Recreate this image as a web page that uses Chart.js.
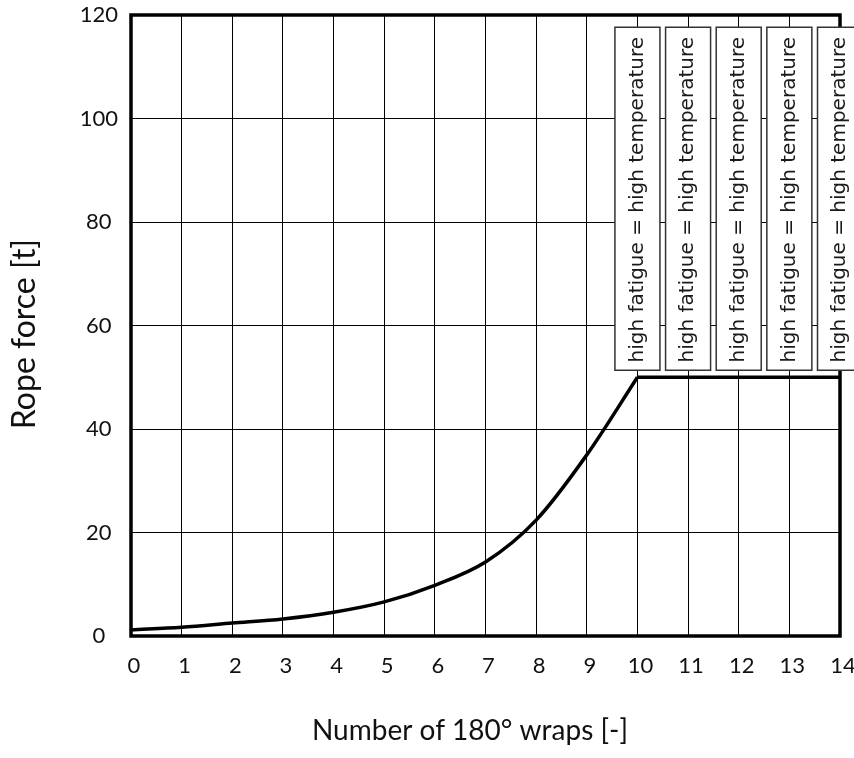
<!DOCTYPE html>
<html>
<head>
<meta charset="utf-8">
<script src="https://cdn.jsdelivr.net/npm/chart.js@4.4.1/dist/chart.umd.min.js"></script>
<style>
  html, body { margin: 0; padding: 0; background: #fff; }
  #wrap { width: 854px; height: 758px; position: relative; }
</style>
</head>
<body>
<div id="wrap"><canvas id="ropeChart"></canvas></div>
<script>
// --- data ---
const wrapsCurve = [0, 1, 2, 3, 4, 5, 6, 7, 8, 9, 10];
const forceCurve = [1.2, 1.7, 2.5, 3.3, 4.6, 6.6, 9.8, 14.3, 22.4, 35, 50];
const wrapsFlat = [10, 11, 12, 13, 14];
const forceFlat = [50, 50, 50, 50, 50];
const noteWraps = [10, 11, 12, 13, 14];
const noteText = 'high fatigue = high temperature';
const xTitle = 'Number of 180\u00b0 wraps [-]';
const yTitle = 'Rope force [t]';

const FONT = 'Lato, "Open Sans", sans-serif';
const toPts = (xs, ys) => xs.map((x, i) => ({ x: x, y: ys[i] }));

// frame, notes and axis titles
const decor = {
    id: 'decor',
    beforeDatasetsDraw(chart) {
        const { ctx, chartArea: a } = chart;
        ctx.save();
        ctx.strokeStyle = '#000';
        ctx.lineWidth = 3.5;
        ctx.strokeRect(a.left, a.top, a.right - a.left, a.bottom - a.top);
        ctx.restore();
    },
    afterDatasetsDraw(chart) {
        const { ctx, scales: { x, y } } = chart;
        ctx.save();
        const bottom = y.getPixelForValue(50) - 7;
        const h = 343, w = 45;
        noteWraps.forEach(v => {
            const cx = x.getPixelForValue(v);
            ctx.fillStyle = '#fff';
            ctx.fillRect(cx - w / 2, bottom - h, w, h);
            ctx.strokeStyle = '#333';
            ctx.lineWidth = 1.5;
            ctx.strokeRect(cx - w / 2, bottom - h, w, h);
            ctx.save();
            ctx.translate(cx, bottom - h / 2 + 1);
            ctx.rotate(-Math.PI / 2);
            ctx.fillStyle = '#1a1a1a';
            ctx.font = '20px "DejaVu Sans", sans-serif';
            ctx.textAlign = 'center';
            ctx.textBaseline = 'middle';
            ctx.fillText(noteText, 0, 0);
            ctx.restore();
        });
        // axis titles
        ctx.fillStyle = '#111';
        ctx.textAlign = 'center';
        ctx.textBaseline = 'alphabetic';
        ctx.font = '28px ' + FONT;
        ctx.fillText(xTitle, 470, 740);
        ctx.font = '32px ' + FONT;
        ctx.translate(35, 334);
        ctx.rotate(-Math.PI / 2);
        ctx.fillText(yTitle, 0, 0);
        ctx.restore();
    }
};

function initChart() {
    const ctx = document.getElementById('ropeChart').getContext('2d');
    return new Chart(ctx, {
        type: 'line',
        data: {
            datasets: [{
                data: toPts(wrapsCurve, forceCurve),
                borderColor: '#000',
                borderWidth: 3.5,
                pointRadius: 0,
                cubicInterpolationMode: 'monotone',
                fill: false
            }, {
                data: toPts(wrapsFlat, forceFlat),
                borderColor: '#000',
                borderWidth: 3.5,
                pointRadius: 0,
                fill: false
            }]
        },
        options: {
            responsive: true,
            maintainAspectRatio: false,
            animation: false,
            layout: { padding: { left: 0, right: 14, top: 15, bottom: 0 } },
            plugins: { legend: { display: false }, tooltip: { enabled: false } },
            scales: {
                x: {
                    type: 'linear', min: 0, max: 14,
                    afterFit: s => { s.height = 122; s.paddingLeft = 0; s.paddingRight = 0; },
                    grid: { color: '#000', lineWidth: 1, drawTicks: false },
                    border: { display: false },
                    ticks: { stepSize: 1, color: '#111', padding: 17, labelOffset: 3, maxRotation: 0, font: { family: FONT, size: 22 } }
                },
                y: {
                    min: 0, max: 120,
                    afterFit: s => { s.width = 131; s.paddingTop = 0; s.paddingBottom = 0; },
                    grid: { color: '#000', lineWidth: 1, drawTicks: false },
                    border: { display: false },
                    ticks: { stepSize: 20, color: '#111', padding: 13, crossAlign: 'center', font: { family: FONT, size: 22 } }
                }
            }
        },
        plugins: [decor]
    });
}

document.addEventListener('DOMContentLoaded', initChart);
</script>
</body>
</html>
